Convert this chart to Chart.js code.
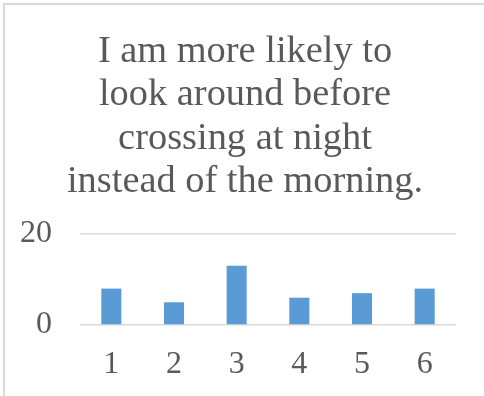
<!DOCTYPE html>
<html>
<head>
<meta charset="utf-8">
<script src="https://cdn.jsdelivr.net/npm/chart.js@4/dist/chart.umd.min.js"></script>
<style>
  html, body { margin: 0; padding: 0; background: #ffffff; }
  body { width: 484px; height: 396px; position: relative; overflow: hidden; }
  #frame {
    position: absolute; left: 3px; top: 3px; width: 479px; height: 391px;
    border-left: 2px solid #d9d9d9; border-top: 2px solid #d9d9d9;
  }
  #box { position: absolute; left: 0; top: 0; width: 479px; height: 391px; }
</style>
</head>
<body>
<div id="frame"><div id="box"><canvas id="chart"></canvas></div></div>
<script>
// Responses on a 1–6 agreement scale
const categories = ['1', '2', '3', '4', '5', '6'];
const counts = [8, 5, 13, 6, 7, 8];
const yTicks = [0, 20];
const titleLines = ['I am more likely to', 'look around before', 'crossing at night', 'instead of the morning.'];

const serif = "'Liberation Serif', 'Times New Roman', serif";
const textGray = '#595959';

new Chart(document.getElementById('chart'), {
  type: 'bar',
  data: {
    labels: categories,
    datasets: [{
      data: counts,
      backgroundColor: '#5b9bd5',
      borderWidth: 0,
      barPercentage: 0.32,
      categoryPercentage: 1.0
    }]
  },
  options: {
    responsive: true,
    maintainAspectRatio: false,
    animation: false,
    layout: { padding: { left: 1, right: 0, top: 25, bottom: 1 } },
    plugins: {
      legend: { display: false },
      tooltip: { enabled: false },
      title: {
        display: true,
        text: titleLines,
        color: textGray,
        font: { family: serif, size: 38.4, weight: 'normal', lineHeight: 1.133 },
        padding: { top: 0, bottom: 30 }
      }
    },
    scales: {
      x: {
        grid: { display: false, drawTicks: false },
        border: { display: false },
        ticks: { color: textGray, font: { family: serif, size: 32 }, padding: 20 },
        afterFit: (axis) => { axis.height = 70; }
      },
      y: {
        min: yTicks[0],
        max: yTicks[yTicks.length - 1],
        afterBuildTicks: (axis) => { axis.ticks = yTicks.map(v => ({ value: v })); },
        grid: { color: '#d9d9d9', lineWidth: 1.5, drawTicks: false },
        border: { display: false },
        ticks: { color: textGray, font: { family: serif, size: 32 }, padding: 28 },
        afterFit: (axis) => { axis.width = 74; }
      },
      // empty margin on the right of the plot
      yRight: {
        position: 'right',
        grid: { display: false, drawTicks: false },
        border: { display: false },
        ticks: { display: false },
        afterFit: (axis) => { axis.width = 28; }
      }
    }
  }
});
</script>
</body>
</html>
